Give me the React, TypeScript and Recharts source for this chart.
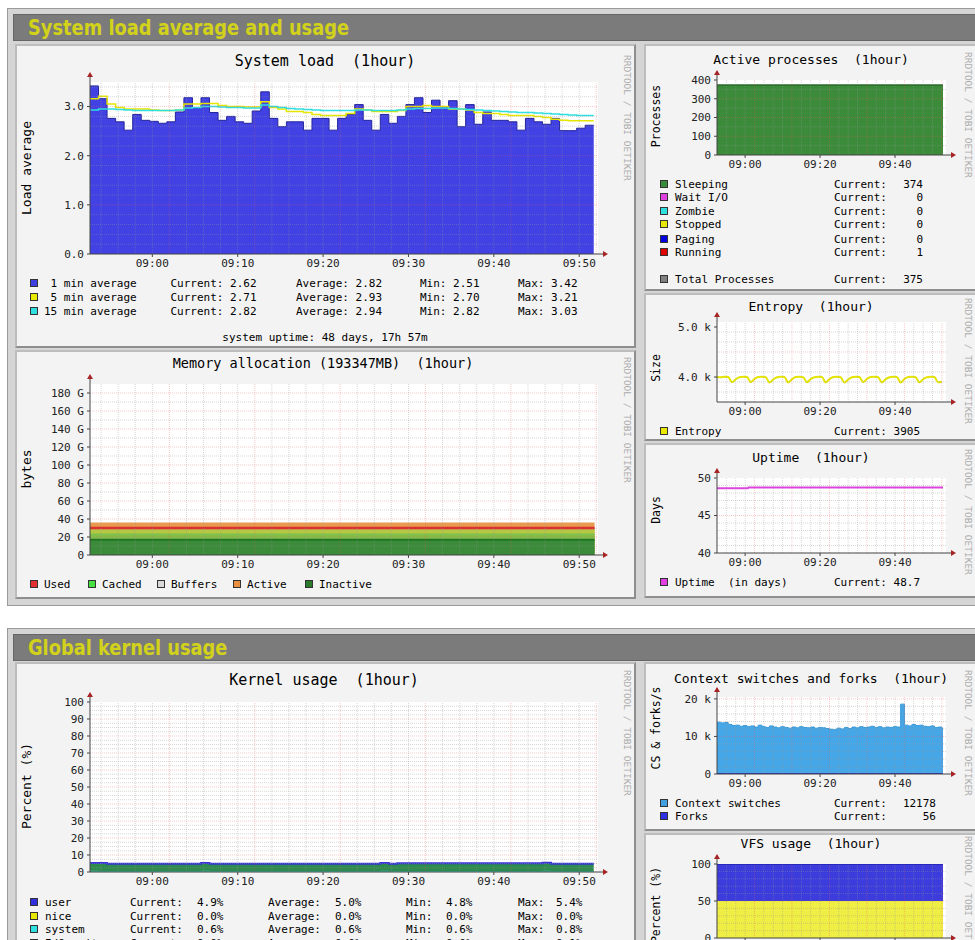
import React from "react";
import {
  Area,
  CartesianGrid,
  ComposedChart,
  Line,
  ReferenceDot,
  ReferenceLine,
  XAxis,
  YAxis
} from "recharts";

const MONO = "'DejaVu Sans Mono', monospace";

// time axis is in minutes relative to 09:00
const wideStart = -7.3;
const wideEnd = 51.8;
const wideDomain: [number, number] = [-7.3, 52.2];
const narrowStart = -7.5;
const narrowEnd = 52.8;
const narrowDomain: [number, number] = [-7.5, 53.6];
const wideTicks = [0, 10, 20, 30, 40, 50];
const narrowTicks = [0, 20, 40];

// system load, one value per minute
const load1 = [3.42, 3.16, 2.76, 2.69, 2.52, 2.84, 2.72, 2.70, 2.66, 2.69, 2.89, 3.18, 2.98, 3.18, 2.88, 2.72, 2.80, 2.69, 2.66, 2.91,
  3.30, 2.76, 2.59, 2.69, 2.69, 2.52, 2.76, 2.76, 2.52, 2.76, 2.84, 3.04, 2.72, 2.52, 2.84, 2.66, 2.80, 3.04, 3.18, 2.88,
  3.13, 2.98, 3.12, 2.59, 3.04, 2.64, 2.89, 2.72, 2.72, 2.69, 2.52, 2.76, 2.69, 2.64, 2.76, 2.51, 2.51, 2.56, 2.62];
const load5 = [3.16, 3.21, 3.05, 2.98, 2.95, 2.95, 2.95, 2.93, 2.92, 2.92, 2.93, 3.05, 3.05, 3.06, 3.06, 3.02, 3.00, 3.00, 2.99, 2.99,
  3.10, 2.98, 2.95, 2.90, 2.90, 2.88, 2.84, 2.82, 2.82, 2.82, 2.86, 2.95, 2.93, 2.90, 2.90, 2.90, 2.92, 3.00, 3.00, 3.02,
  3.00, 3.00, 2.95, 2.95, 2.93, 2.88, 2.86, 2.86, 2.84, 2.82, 2.82, 2.82, 2.80, 2.78, 2.74, 2.72, 2.71, 2.71, 2.71];
const load15 = [2.93, 2.95, 2.95, 2.94, 2.93, 2.92, 2.92, 2.92, 2.92, 2.92, 2.93, 2.97, 2.98, 3.00, 3.00, 2.99, 2.98, 2.98, 2.97, 2.97,
  3.03, 3.00, 2.98, 2.96, 2.95, 2.94, 2.93, 2.92, 2.92, 2.92, 2.92, 2.93, 2.93, 2.92, 2.92, 2.92, 2.93, 2.95, 2.96, 2.96,
  2.97, 2.97, 2.96, 2.95, 2.94, 2.93, 2.92, 2.91, 2.90, 2.89, 2.88, 2.88, 2.87, 2.86, 2.85, 2.84, 2.83, 2.82, 2.82];

// memory (G), flat over the hour
const memTime = [wideStart, wideEnd];
const memActive = [36, 36];
const memUsed = [30, 30];
const memCached = [28.5, 28.5];
const memBuffers = [24, 24];
const memInactive = [17, 17];

// processes
const procTime = [narrowStart, narrowEnd];
const procSleeping = [374, 374];

// entropy, one value per minute
const entropy = [4000, 3995, 4005, 4000, 3895, 3955, 3995, 4005, 4000, 3895, 3960, 4000, 4005, 3995, 3890, 3950, 3995, 4005, 4000, 3890,
  3955, 4000, 4005, 3995, 3895, 3960, 3995, 4005, 4000, 3890, 3955, 4000, 4005, 3995, 3890, 3950, 3995, 4005, 4000, 3895,
  3960, 4000, 4005, 3995, 3890, 3955, 3995, 4005, 4000, 3890, 3960, 4000, 4005, 3995, 3895, 3955, 3995, 4005, 4000, 3895, 3905];

// uptime (days)
const uptimeTime = [narrowStart, 0.7, 0.9, narrowEnd];
const uptimeDays = [48.62, 48.62, 48.72, 48.72];

// kernel usage, one value per minute
const kUser = [5.3, 5.3, 4.9, 4.9, 4.9, 4.8, 4.9, 4.9, 4.9, 4.9, 4.9, 4.9, 4.9, 5.3, 4.9, 4.9, 4.9, 4.8, 4.9, 4.9,
  4.9, 4.9, 4.9, 4.9, 4.8, 4.9, 4.9, 4.9, 4.9, 4.9, 4.9, 4.9, 4.9, 4.9, 5.3, 4.9, 5.2, 5.2, 5.1, 5.2,
  5.2, 5.2, 5.2, 5.2, 5.1, 5.2, 5.2, 5.2, 5.2, 5.2, 5.2, 5.2, 5.1, 5.4, 4.9, 4.9, 4.9, 4.9, 4.9];
const kSystem = [0.7, 0.6, 0.6, 0.6, 0.6, 0.6, 0.6, 0.6, 0.6, 0.6, 0.6, 0.6, 0.6, 0.8, 0.6, 0.6, 0.6, 0.6, 0.6, 0.6,
  0.6, 0.6, 0.6, 0.6, 0.6, 0.6, 0.6, 0.6, 0.6, 0.6, 0.6, 0.6, 0.6, 0.6, 0.7, 0.6, 0.6, 0.6, 0.6, 0.6,
  0.6, 0.6, 0.6, 0.6, 0.6, 0.6, 0.6, 0.6, 0.6, 0.6, 0.6, 0.6, 0.6, 0.7, 0.6, 0.6, 0.6, 0.6, 0.6];

// context switches / forks, one value per minute
const ctxSwitches = [13800, 13600, 13700, 13200, 12900, 13000, 12700, 12900, 12600, 12800, 12500, 13000, 12600, 12400, 12800, 12500,
  12300, 12600, 12400, 12200, 12500, 12300, 12600, 12400, 12300, 12500, 12200, 12400, 12300, 12100, 11900, 11800, 12200, 12000,
  12400, 12100, 12500, 12300, 12600, 12400, 12500, 12700, 12400, 12600, 12300, 12500, 12400, 12600, 12500, 18600, 13000, 12800,
  13200, 12900, 13000, 12700, 12600, 12800, 12400, 12500, 12178];
const forks = [58, 55, 57, 56, 54, 57, 55, 56, 58, 55, 56, 57, 55, 54, 56, 58, 55, 56, 57, 55, 56, 54, 57, 56, 55, 58, 56, 55, 57, 56,
  54, 55, 57, 56, 58, 55, 56, 57, 55, 56, 54, 57, 56, 55, 58, 56, 55, 57, 56, 61, 57, 55, 56, 58, 55, 56, 57, 54, 56, 55, 56];

// VFS usage
const vfsTime = [narrowStart, narrowEnd];
const vfsYellow = [50, 50];
const vfsBlue = [50, 50];

// legends
const loadNames = [" 1 min average", " 5 min average", "15 min average"];
const loadColors = ["#3f3fe0", "#e8e800", "#30e0e0"];
const loadCur = ["2.62", "2.71", "2.82"];
const loadAvg = ["2.82", "2.93", "2.94"];
const loadMin = ["2.51", "2.70", "2.82"];
const loadMax = ["3.42", "3.21", "3.03"];

const memNames = ["Used", "Cached", "Buffers", "Active", "Inactive"];
const memColors = ["#e23030", "#44e044", "#d8d8d8", "#e89040", "#2c7a2c"];

const procNames = ["Sleeping", "Wait I/O", "Zombie", "Stopped", "Paging", "Running"];
const procColors = ["#3a8a3a", "#e040e0", "#30e0e0", "#e8e800", "#0000e0", "#e00000"];
const procCur = ["374", "0", "0", "0", "0", "1"];

const kNames = ["user", "nice", "system", "I/O wait"];
const kColors = ["#3030e0", "#e8e800", "#30e0e0", "#e040e0"];
const kCur = ["4.9%", "0.0%", "0.6%", "0.0%"];
const kAvg = ["5.0%", "0.0%", "0.6%", "0.0%"];
const kMin = ["4.8%", "0.0%", "0.6%", "0.0%"];
const kMax = ["5.4%", "0.0%", "0.8%", "0.1%"];

const fmtTime = (t: number) => {
  const m = Math.round(540 + t);
  return `${String(Math.floor(m / 60)).padStart(2, "0")}:${String(m % 60).padStart(2, "0")}`;
};

function gridVals(from: number, to: number, step: number, every: number) {
  const minor: number[] = [];
  const major: number[] = [];
  for (let k = 1; from + k * step <= to + 1e-9; k++) {
    const v = +(from + k * step).toFixed(4);
    if (k % every === 0) major.push(v);
    else minor.push(v);
  }
  return { minor, major };
}

const PAD_L = 60, PAD_R = 16, PAD_T = 12, PAD_B = 22;
const tickStyle = { fontSize: 11, fontFamily: MONO, fill: "#222" };

type Plot = { l: number; t: number; r: number; b: number };

function ArrowRight(p: any) {
  const { cx, cy } = p;
  return (
    <g>
      <line x1={cx} y1={cy} x2={cx + 6} y2={cy} stroke="#444" />
      <path d={`M${cx + 5},${cy - 3}L${cx + 10},${cy}L${cx + 5},${cy + 3}Z`} fill="#a82424" />
    </g>
  );
}

function ArrowUp(p: any) {
  const { cx, cy } = p;
  return (
    <g>
      <line x1={cx} y1={cy} x2={cx} y2={cy - 6} stroke="#444" />
      <path d={`M${cx - 3},${cy - 5}L${cx},${cy - 10}L${cx + 3},${cy - 5}Z`} fill="#a82424" />
    </g>
  );
}

function RrdGraph(props: {
  plot: Plot;
  data: any[];
  xDomain: [number, number];
  yDomain: [number, number];
  xTicks: number[];
  yTicks: number[];
  yFmt: (v: number) => string;
  xGrid: { minor: number[]; major: number[] };
  yGrid: { minor: number[]; major: number[] };
  children: React.ReactNode;
}) {
  const { plot, xDomain, yDomain } = props;
  const width = plot.r - plot.l + PAD_L + PAD_R;
  const height = plot.b - plot.t + PAD_T + PAD_B;
  const minor = "rgba(150,150,150,0.38)";
  const major = "rgba(235,90,90,0.32)";
  return (
    <div style={{ position: "absolute", left: plot.l - PAD_L, top: plot.t - PAD_T }}>
      <ComposedChart width={width} height={height} data={props.data}
        margin={{ top: PAD_T, right: PAD_R, bottom: 0, left: 0 }}>
        <CartesianGrid horizontal={false} vertical={false} fill="#ffffff" />
        {props.children}
        {props.yGrid.minor.map(v => (
          <ReferenceLine key={"ym" + v} y={v} stroke={minor} strokeDasharray="1 1" />
        ))}
        {props.xGrid.minor.map(v => (
          <ReferenceLine key={"xm" + v} x={v} stroke={minor} strokeDasharray="1 1" />
        ))}
        {props.yGrid.major.map(v => (
          <ReferenceLine key={"yM" + v} y={v} stroke={major} strokeDasharray="1 1" />
        ))}
        {props.xGrid.major.map(v => (
          <ReferenceLine key={"xM" + v} x={v} stroke={major} strokeDasharray="1 1" />
        ))}
        <XAxis type="number" dataKey="t" domain={xDomain} ticks={props.xTicks} interval={0}
          allowDataOverflow tickFormatter={fmtTime} height={PAD_B} tick={tickStyle}
          tickSize={3} tickMargin={2} stroke="#444" />
        <YAxis type="number" domain={yDomain} ticks={props.yTicks} interval={0}
          allowDataOverflow tickFormatter={props.yFmt} width={PAD_L} tick={tickStyle}
          tickSize={3} tickMargin={3} stroke="#444" />
        <ReferenceDot x={xDomain[1]} y={yDomain[0]} r={0} ifOverflow="visible" shape={ArrowRight} />
        <ReferenceDot x={xDomain[0]} y={yDomain[1]} r={0} ifOverflow="visible" shape={ArrowUp} />
      </ComposedChart>
    </div>
  );
}

function T(props: { x: number; y: number; size?: number; align?: string; color?: string; children: React.ReactNode }) {
  const { x, y, size = 11, align = "left", color = "#000" } = props;
  const tx = align === "center" ? "-50%" : align === "right" ? "-100%" : "0";
  return (
    <div style={{
      position: "absolute", left: x, top: y, transform: `translate(${tx},-50%)`,
      fontFamily: MONO, fontSize: size, lineHeight: 1, whiteSpace: "pre", color
    }}>{props.children}</div>
  );
}

function YLabel(props: { x: number; y: number; size: number; children: React.ReactNode }) {
  return (
    <div style={{
      position: "absolute", left: props.x, top: props.y, transform: "translate(-50%,-50%) rotate(-90deg)",
      fontFamily: MONO, fontSize: props.size, lineHeight: 1, whiteSpace: "pre"
    }}>{props.children}</div>
  );
}

function Watermark(props: { x: number; y: number }) {
  return (
    <div style={{
      position: "absolute", left: props.x - 5, top: props.y, writingMode: "vertical-rl",
      fontFamily: MONO, fontSize: 9.5, lineHeight: 1, color: "#ababab", whiteSpace: "pre"
    }}>RRDTOOL / TOBI OETIKER</div>
  );
}

function Sq(props: { x: number; y: number; color: string }) {
  return (
    <div style={{
      position: "absolute", left: props.x, top: props.y - 4, width: 8, height: 8,
      boxSizing: "border-box", background: props.color, border: "1px solid #333"
    }} />
  );
}

function Panel(props: { l: number; t: number; w: number; h: number }) {
  return (
    <div style={{
      position: "absolute", left: props.l, top: props.t, width: props.w, height: props.h,
      boxSizing: "border-box", background: "#f3f3f3", border: "2px solid",
      borderColor: "#bdbdbd #8e8e8e #8e8e8e #bdbdbd"
    }} />
  );
}

function Section(props: { t: number; h: number; title: string }) {
  return (
    <>
      <div style={{
        position: "absolute", left: 7, top: props.t, width: 990, height: props.h,
        boxSizing: "border-box", background: "#d5d5d5", border: "1px solid #9a9a9a"
      }} />
      <div style={{
        position: "absolute", left: 13, top: props.t + 6, width: 980, height: 27,
        boxSizing: "border-box", background: "#7b7b7b", border: "1px solid #666"
      }} />
      <div style={{
        position: "absolute", left: 28, top: props.t + 19.5, transform: "translateY(-50%) scaleX(0.9)",
        transformOrigin: "left center",
        fontFamily: "'Liberation Sans Narrow', 'DejaVu Sans Condensed', sans-serif", fontWeight: "bold",
        fontSize: 22, lineHeight: 1, color: "#d2d21a", whiteSpace: "pre"
      }}>{props.title}</div>
    </>
  );
}

export default function App() {
  const loadRows = [...load1, load1[load1.length - 1]].map((v, i) => ({
    t: wideStart + i,
    l1: v,
    l5: load5[Math.min(i, load5.length - 1)],
    l15: load15[Math.min(i, load15.length - 1)]
  }));
  const memRows = memTime.map((t, i) => ({
    t, active: memActive[i], used: memUsed[i], cached: memCached[i], buffers: memBuffers[i], inactive: memInactive[i]
  }));
  const procRows = procTime.map((t, i) => ({ t, sleeping: procSleeping[i] }));
  const entRows = entropy.map((v, i) => ({ t: narrowStart + i, e: v }));
  const upRows = uptimeTime.map((t, i) => ({ t, up: uptimeDays[i] }));
  const kRows = [...kUser, kUser[kUser.length - 1]].map((v, i) => ({
    t: wideStart + i,
    user: v,
    system: kSystem[Math.min(i, kSystem.length - 1)]
  }));
  const ctxRows = [...ctxSwitches.map((v, i) => ({ t: narrowStart + i, cs: v, fk: forks[i] })),
    { t: narrowEnd, cs: ctxSwitches[ctxSwitches.length - 1], fk: forks[forks.length - 1] }];
  const vfsRows = vfsTime.map((t, i) => ({ t, y: vfsYellow[i], b: vfsBlue[i] }));

  const wideX = gridVals(-8, 52, 2, 5);
  const narrowX = gridVals(-7.5, 53.5, 2.5, 4);

  return (
    <div style={{ position: "absolute", left: 0, top: 0, width: 975, height: 940, overflow: "hidden", background: "#fff" }}>
      <Section t={8} h={598} title="System load average and usage" />
      <Section t={628} h={330} title="Global kernel usage" />

      <Panel l={15} t={44} w={621} h={304} />
      <Panel l={15} t={350} w={621} h={249} />
      <Panel l={644} t={44} w={340} h={247} />
      <Panel l={644} t={293} w={340} h={148} />
      <Panel l={644} t={443} w={340} h={155} />
      <Panel l={15} t={662} w={621} h={300} />
      <Panel l={644} t={662} w={340} h={169} />
      <Panel l={644} t={833} w={340} h={120} />

      {/* System load */}
      <T x={325} y={61} size={15} align="center">System load  (1hour)</T>
      <YLabel x={26} y={168} size={13}>Load average</YLabel>
      <Watermark x={627} y={55} />
      <RrdGraph plot={{ l: 90, t: 82, r: 598, b: 254 }} data={loadRows} xDomain={wideDomain} yDomain={[0, 3.5]}
        xTicks={wideTicks} yTicks={[0, 1, 2, 3]} yFmt={v => v.toFixed(1)}
        xGrid={wideX} yGrid={gridVals(0, 3.4, 0.2, 5)}>
        <Area dataKey="l1" type="stepAfter" fill="#4141e4" fillOpacity={1} stroke="#25259a" strokeWidth={1} isAnimationActive={false} />
        <Line dataKey="l5" type="stepAfter" stroke="#e6e600" strokeWidth={1.5} dot={false} isAnimationActive={false} />
        <Line dataKey="l15" type="stepAfter" stroke="#2fdede" strokeWidth={1.5} dot={false} isAnimationActive={false} />
      </RrdGraph>
      {loadNames.map((n, i) => (
        <React.Fragment key={n}>
          <Sq x={30} y={283 + i * 14} color={loadColors[i]} />
          <T x={44} y={283 + i * 14}>{n}</T>
          <T x={170.5} y={283 + i * 14}>{"Current: " + loadCur[i]}</T>
          <T x={296} y={283 + i * 14}>{"Average: " + loadAvg[i]}</T>
          <T x={420} y={283 + i * 14}>{"Min: " + loadMin[i]}</T>
          <T x={518} y={283 + i * 14}>{"Max: " + loadMax[i]}</T>
        </React.Fragment>
      ))}
      <T x={325} y={337} align="center">system uptime: 48 days, 17h 57m</T>

      {/* Memory */}
      <T x={323} y={364} size={13.5} align="center">Memory allocation (193347MB)  (1hour)</T>
      <YLabel x={26} y={469} size={13}>bytes</YLabel>
      <Watermark x={627} y={357} />
      <RrdGraph plot={{ l: 90, t: 384, r: 598, b: 555 }} data={memRows} xDomain={wideDomain} yDomain={[0, 190]}
        xTicks={wideTicks} yTicks={[0, 20, 40, 60, 80, 100, 120, 140, 160, 180]}
        yFmt={v => (v === 0 ? "0" : `${v} G`)} xGrid={wideX} yGrid={gridVals(0, 185, 10, 2)}>
        <Area dataKey="active" fill="#e89b50" fillOpacity={1} stroke="none" isAnimationActive={false} />
        <Area dataKey="cached" fill="#b5c846" fillOpacity={1} stroke="none" isAnimationActive={false} />
        <Area dataKey="buffers" fill="#80bf4a" fillOpacity={1} stroke="none" isAnimationActive={false} />
        <Area dataKey="inactive" fill="#3b8b3b" fillOpacity={1} stroke="#237423" strokeWidth={2} isAnimationActive={false} />
        <Line dataKey="used" stroke="#e02828" strokeWidth={2.5} dot={false} isAnimationActive={false} />
      </RrdGraph>
      {memNames.map((n, i) => {
        const xs = [30, 88, 157, 233, 305];
        return (
          <React.Fragment key={n}>
            <Sq x={xs[i]} y={584} color={memColors[i]} />
            <T x={xs[i] + 14} y={584}>{n}</T>
          </React.Fragment>
        );
      })}

      {/* Active processes */}
      <T x={811} y={59} size={13} align="center">Active processes  (1hour)</T>
      <YLabel x={657} y={116} size={11.5}>Processes</YLabel>
      <Watermark x={968} y={52} />
      <RrdGraph plot={{ l: 717, t: 80, r: 946, b: 155 }} data={procRows} xDomain={narrowDomain} yDomain={[0, 400]}
        xTicks={narrowTicks} yTicks={[0, 100, 200, 300, 400]} yFmt={v => String(v)}
        xGrid={narrowX} yGrid={gridVals(0, 390, 50, 2)}>
        <Area dataKey="sleeping" fill="#3b8b3b" fillOpacity={1} stroke="#2a6a2a" strokeWidth={1.5} isAnimationActive={false} />
      </RrdGraph>
      {procNames.map((n, i) => {
        const y = [184, 197, 211, 224, 239, 252][i];
        return (
          <React.Fragment key={n}>
            <Sq x={660} y={y} color={procColors[i]} />
            <T x={675} y={y}>{n}</T>
            <T x={834} y={y}>Current:</T>
            <T x={923} y={y} align="right">{procCur[i]}</T>
          </React.Fragment>
        );
      })}
      <Sq x={660} y={279} color="#808080" />
      <T x={675} y={279}>Total Processes</T>
      <T x={834} y={279}>Current:</T>
      <T x={923} y={279} align="right">375</T>

      {/* Entropy */}
      <T x={811} y={306} size={13} align="center">Entropy  (1hour)</T>
      <YLabel x={657} y={368} size={11.5}>Size</YLabel>
      <Watermark x={968} y={298} />
      <RrdGraph plot={{ l: 717, t: 322, r: 946, b: 402 }} data={entRows} xDomain={narrowDomain} yDomain={[3500, 5100]}
        xTicks={narrowTicks} yTicks={[4000, 5000]} yFmt={v => `${(v / 1000).toFixed(1)} k`}
        xGrid={narrowX} yGrid={gridVals(3500, 5050, 200, 5)}>
        <Line dataKey="e" type="monotone" stroke="#e4e400" strokeWidth={2} dot={false} isAnimationActive={false} />
      </RrdGraph>
      <Sq x={660} y={431} color="#e8e800" />
      <T x={675} y={431}>Entropy</T>
      <T x={834} y={431}>Current: 3905</T>

      {/* Uptime */}
      <T x={811} y={457} size={13} align="center">Uptime  (1hour)</T>
      <YLabel x={657} y={510} size={11.5}>Days</YLabel>
      <Watermark x={968} y={449} />
      <RrdGraph plot={{ l: 717, t: 478, r: 946, b: 553 }} data={upRows} xDomain={narrowDomain} yDomain={[40, 50]}
        xTicks={narrowTicks} yTicks={[40, 45, 50]} yFmt={v => String(v)}
        xGrid={narrowX} yGrid={gridVals(40, 49, 1, 5)}>
        <Line dataKey="up" type="linear" stroke="#dd44dd" strokeWidth={2} dot={false} isAnimationActive={false} />
      </RrdGraph>
      <Sq x={660} y={582} color="#e040e0" />
      <T x={675} y={582}>Uptime  (in days)</T>
      <T x={834} y={582}>Current: 48.7</T>

      {/* Kernel usage */}
      <T x={324} y={680} size={15} align="center">Kernel usage  (1hour)</T>
      <YLabel x={26} y={786} size={13}>Percent (%)</YLabel>
      <Watermark x={627} y={670} />
      <RrdGraph plot={{ l: 90, t: 702, r: 598, b: 872 }} data={kRows} xDomain={wideDomain} yDomain={[0, 100]}
        xTicks={wideTicks} yTicks={[0, 10, 20, 30, 40, 50, 60, 70, 80, 90, 100]} yFmt={v => String(v)}
        xGrid={wideX} yGrid={gridVals(0, 97.5, 2.5, 4)}>
        <Area dataKey="user" type="stepAfter" fill="#2e8b50" fillOpacity={1} stroke="#3535d8" strokeWidth={2} isAnimationActive={false} />
        <Area dataKey="system" type="stepAfter" fill="#3fc0a8" fillOpacity={1} stroke="none" isAnimationActive={false} />
      </RrdGraph>
      {kNames.map((n, i) => {
        const y = [901.5, 915.5, 929, 943][i];
        return (
          <React.Fragment key={n}>
            <Sq x={30} y={y} color={kColors[i]} />
            <T x={45} y={y}>{n}</T>
            <T x={130} y={y}>Current:</T>
            <T x={197} y={y}>{kCur[i]}</T>
            <T x={268} y={y}>Average:</T>
            <T x={335} y={y}>{kAvg[i]}</T>
            <T x={406} y={y}>Min:</T>
            <T x={446} y={y}>{kMin[i]}</T>
            <T x={518} y={y}>Max:</T>
            <T x={556} y={y}>{kMax[i]}</T>
          </React.Fragment>
        );
      })}

      {/* Context switches */}
      <T x={811} y={678} size={13} align="center">Context switches and forks  (1hour)</T>
      <YLabel x={657} y={728} size={11.5}>CS &amp; forks/s</YLabel>
      <Watermark x={968} y={670} />
      <RrdGraph plot={{ l: 717, t: 697, r: 946, b: 774 }} data={ctxRows} xDomain={narrowDomain} yDomain={[0, 20500]}
        xTicks={narrowTicks} yTicks={[0, 10000, 20000]} yFmt={v => (v === 0 ? "0" : `${v / 1000} k`)}
        xGrid={narrowX} yGrid={gridVals(0, 20000, 2000, 5)}>
        <Area dataKey="cs" type="stepAfter" fill="#45a7e7" fillOpacity={1} stroke="#3b9ad8" strokeWidth={1} isAnimationActive={false} />
        <Line dataKey="fk" type="stepAfter" stroke="#2d2dc8" strokeWidth={1.5} dot={false} isAnimationActive={false} />
      </RrdGraph>
      <Sq x={660} y={803} color="#40a0e0" />
      <T x={675} y={803}>Context switches</T>
      <T x={834} y={803}>Current:</T>
      <T x={936} y={803} align="right">12178</T>
      <Sq x={660} y={816} color="#3030e0" />
      <T x={675} y={816}>Forks</T>
      <T x={834} y={816}>Current:</T>
      <T x={936} y={816} align="right">56</T>

      {/* VFS usage */}
      <T x={811} y={843} size={13} align="center">VFS usage  (1hour)</T>
      <YLabel x={657} y={905} size={11.5}>Percent (%)</YLabel>
      <Watermark x={968} y={836} />
      <RrdGraph plot={{ l: 717, t: 864, r: 946, b: 938 }} data={vfsRows} xDomain={narrowDomain} yDomain={[0, 100]}
        xTicks={narrowTicks} yTicks={[0, 50, 100]} yFmt={v => String(v)}
        xGrid={narrowX} yGrid={gridVals(0, 90, 10, 5)}>
        <Area dataKey="y" stackId="v" fill="#eeee44" fillOpacity={1} stroke="none" isAnimationActive={false} />
        <Area dataKey="b" stackId="v" fill="#3c3cdc" fillOpacity={1} stroke="#2222b0" strokeWidth={1.5} isAnimationActive={false} />
      </RrdGraph>
    </div>
  );
}
